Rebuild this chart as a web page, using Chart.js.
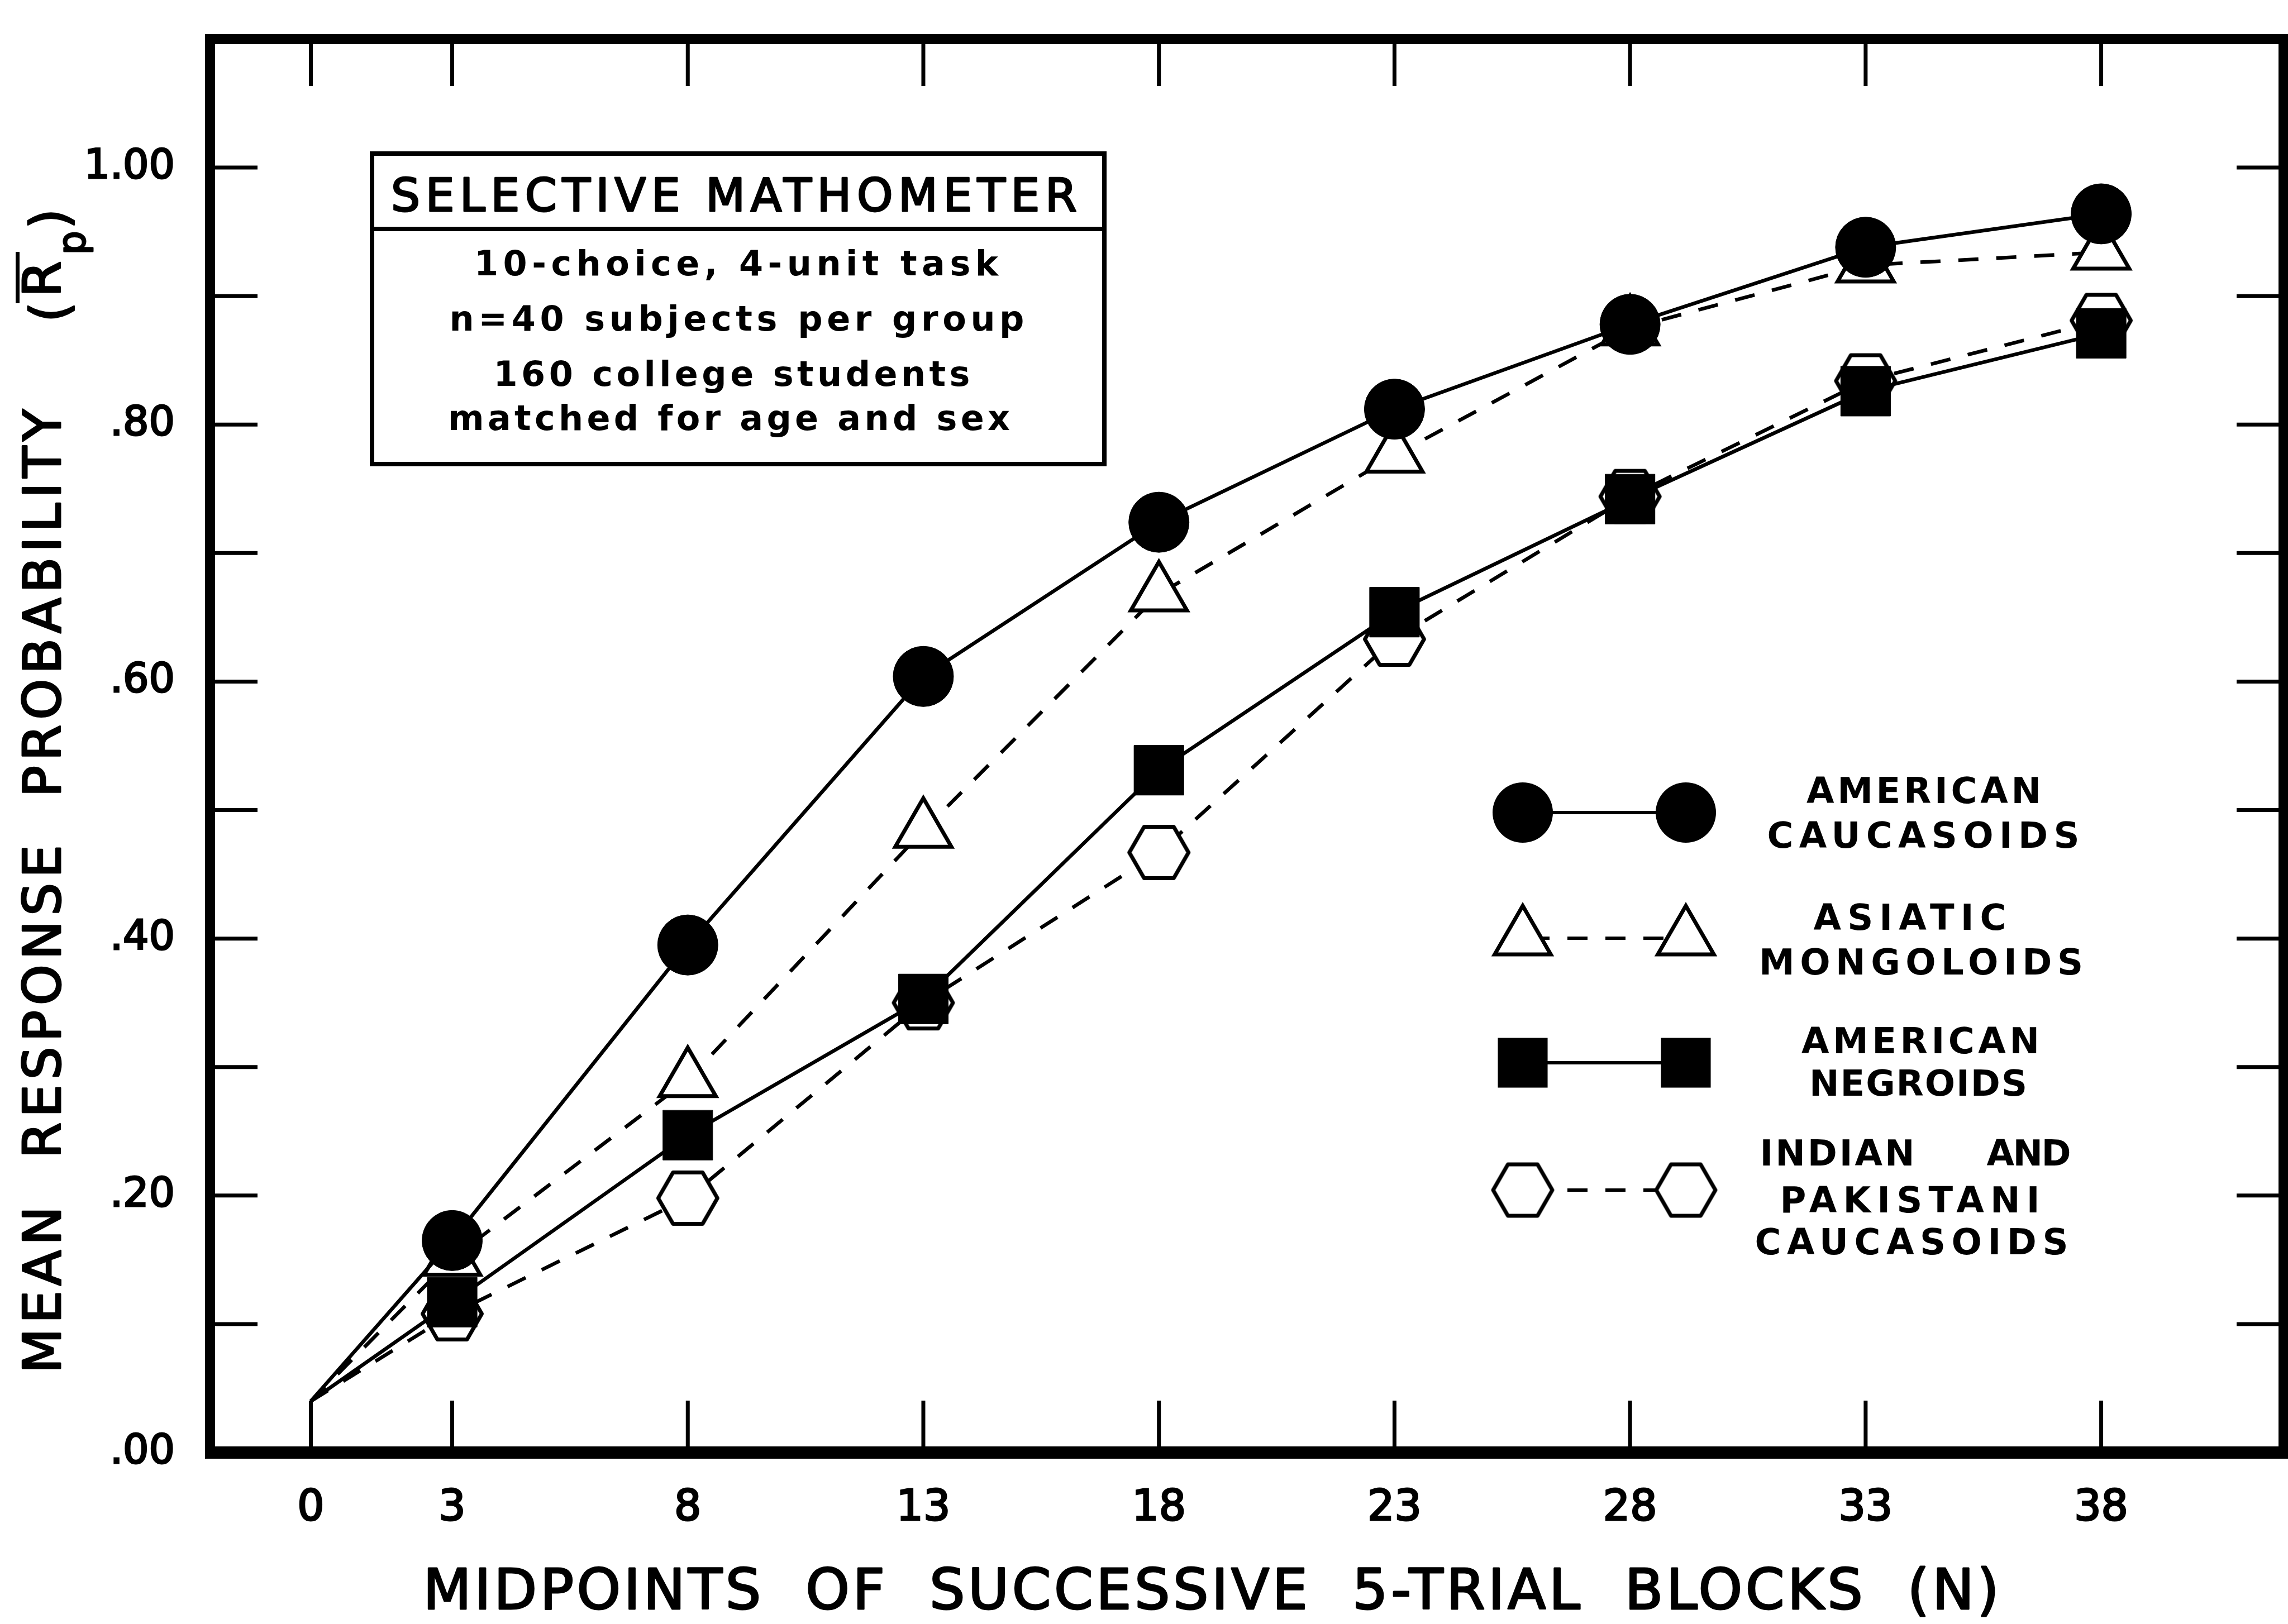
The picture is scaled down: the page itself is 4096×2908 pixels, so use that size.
<!DOCTYPE html>
<html>
<head>
<meta charset="utf-8">
<script src="https://cdn.jsdelivr.net/npm/chart.js@4/dist/chart.umd.min.js"></script>
<style>
html,body{margin:0;padding:0;background:#fff;}
#wrap{width:4096px;height:2908px;position:relative;}
</style>
</head>
<body>
<div id="wrap"><canvas id="c" width="4096" height="2908"></canvas></div>
<script>
// ---------- data ----------
const xValues = [0, 3, 8, 13, 18, 23, 28, 33, 38];
const xTickLabels = ['0', '3', '8', '13', '18', '23', '28', '33', '38'];
const yTickValues = [0, 0.1, 0.2, 0.3, 0.4, 0.5, 0.6, 0.7, 0.8, 0.9, 1.0];
const yTickLabels = ['.00', '', '.20', '', '.40', '', '.60', '', '.80', '', '1.00'];

const americanCaucasoids        = [0.04, 0.165, 0.395, 0.604, 0.724, 0.812, 0.878, 0.938, 0.964];
const asiaticMongoloids         = [0.04, 0.151, 0.290, 0.484, 0.668, 0.776, 0.875, 0.924, 0.934];
const americanNegroids          = [0.04, 0.117, 0.247, 0.353, 0.531, 0.654, 0.742, 0.826, 0.871];
const indianPakistaniCaucasoids = [0.04, 0.108, 0.198, 0.350, 0.467, 0.633, 0.744, 0.834, 0.881];

const seriesNames = ['AMERICAN CAUCASOIDS', 'ASIATIC MONGOLOIDS', 'AMERICAN NEGROIDS', 'INDIAN AND PAKISTANI CAUCASOIDS'];
const legendLines = [['AMERICAN', 'CAUCASOIDS'], ['ASIATIC', 'MONGOLOIDS'], ['AMERICAN', 'NEGROIDS'], ['INDIAN', 'AND', 'PAKISTANI', 'CAUCASOIDS']];
const boxTitle = 'SELECTIVE MATHOMETER';
const boxLines = ['10-choice, 4-unit task', 'n=40 subjects per group', '160 college students', 'matched for age and sex'];
const xTitle = 'MIDPOINTS  OF  SUCCESSIVE  5-TRIAL  BLOCKS  (N)';
const yTitle = 'MEAN  RESPONSE  PROBABILITY';

// ---------- styling helpers ----------
const FONT = '"DejaVu Sans", "Liberation Sans", sans-serif';
const R_CIRCLE = 54, R_TRI = 58, R_RECT = 63, R_HEX = 53;
const TARGET = { left: 376, top: 70, right: 4088, bottom: 2601 };

const hexImg = (() => {
  const R = 53, lw = 7;
  const w = Math.ceil(2 * R + lw + 2), h = Math.ceil(Math.sqrt(3) * R + lw + 2);
  const cv = document.createElement('canvas');
  cv.width = w; cv.height = h;
  const g = cv.getContext('2d');
  g.translate(w / 2, h / 2);
  g.beginPath();
  for (let k = 0; k < 6; k++) {
    const a = k * Math.PI / 3;
    const px = R * Math.cos(a), py = R * Math.sin(a);
    if (k === 0) g.moveTo(px, py); else g.lineTo(px, py);
  }
  g.closePath();
  g.fillStyle = '#fff'; g.fill();
  g.lineWidth = lw; g.strokeStyle = '#000'; g.lineJoin = 'round'; g.stroke();
  return cv;
})();

const pts = arr => xValues.map((x, i) => ({ x: x, y: arr[i] }));
const rads = r => xValues.map((x, i) => (i === 0 ? 0 : r));

function fitText(ctx, text, x0, y, width, strokeW) {
  const n = [...text].length;
  const hasLS = 'letterSpacing' in ctx;
  if (hasLS) ctx.letterSpacing = '0px';
  const nat = ctx.measureText(text).width;
  const ls = n > 1 ? (width - nat) / (n - 1) : 0;
  if (strokeW) { ctx.lineWidth = strokeW; ctx.strokeStyle = '#000'; ctx.lineJoin = 'round'; }
  if (hasLS) {
    ctx.letterSpacing = ls + 'px';
    if (strokeW) ctx.strokeText(text, x0, y);
    ctx.fillText(text, x0, y);
    ctx.letterSpacing = '0px';
  } else {
    let x = x0;
    for (const ch of text) {
      if (strokeW) ctx.strokeText(ch, x, y);
      ctx.fillText(ch, x, y);
      x += ctx.measureText(ch).width + ls;
    }
  }
}
function centeredText(ctx, text, cx, cy, width, font, strokeW) {
  ctx.save();
  ctx.font = font;
  ctx.fillStyle = '#000';
  ctx.textAlign = 'left';
  ctx.textBaseline = 'middle';
  fitText(ctx, text, cx - width / 2, cy, width, strokeW);
  ctx.restore();
}

function legendMarker(ctx, kind, x, y) {
  ctx.save();
  ctx.fillStyle = '#000'; ctx.strokeStyle = '#000';
  if (kind === 'circle') {
    ctx.beginPath(); ctx.arc(x, y, R_CIRCLE, 0, Math.PI * 2); ctx.fill();
  } else if (kind === 'triangle') {
    const r = R_TRI;
    ctx.beginPath();
    ctx.moveTo(x, y - r);
    ctx.lineTo(x + 0.866 * r, y + 0.5 * r);
    ctx.lineTo(x - 0.866 * r, y + 0.5 * r);
    ctx.closePath();
    ctx.fillStyle = '#fff'; ctx.fill();
    ctx.lineWidth = 7; ctx.stroke();
  } else if (kind === 'rect') {
    const s = R_RECT * Math.SQRT1_2;
    ctx.fillRect(x - s, y - s, 2 * s, 2 * s);
  } else {
    ctx.drawImage(hexImg, x - hexImg.width / 2, y - hexImg.height / 2);
  }
  ctx.restore();
}

const framePlugin = {
  id: 'frame',
  beforeDatasetsDraw(chart) {
    const { ctx, chartArea: a, scales: { x, y } } = chart;
    ctx.save();
    ctx.strokeStyle = '#000';
    ctx.lineWidth = 7;
    ctx.beginPath();
    for (const v of xValues) {
      const px = x.getPixelForValue(v);
      ctx.moveTo(px, a.bottom); ctx.lineTo(px, a.bottom - 93);
      ctx.moveTo(px, a.top); ctx.lineTo(px, a.top + 84);
    }
    for (const v of yTickValues) {
      if (v === 0) continue;
      const py = y.getPixelForValue(v);
      ctx.moveTo(a.left, py); ctx.lineTo(a.left + 85, py);
      ctx.moveTo(a.right, py); ctx.lineTo(a.right - 84, py);
    }
    ctx.stroke();
    ctx.restore();
  },
  afterDraw(chart) {
    const { ctx, chartArea: a } = chart;
    ctx.save();
    ctx.strokeStyle = '#000';
    ctx.lineJoin = 'miter';
    ctx.lineWidth = 18;
    ctx.strokeRect(a.left, a.top, a.right - a.left, a.bottom - a.top);
    ctx.lineWidth = 22;
    ctx.beginPath(); ctx.moveTo(a.left - 9, a.bottom); ctx.lineTo(a.right + 9, a.bottom); ctx.stroke();
    ctx.restore();

    // x axis title
    centeredText(ctx, xTitle, 2168, 2855, 2821, '100px ' + FONT, 3);

    // y axis title (rotated)
    ctx.save();
    ctx.fillStyle = '#000';
    ctx.translate(108, 0);
    ctx.rotate(-Math.PI / 2);
    ctx.textAlign = 'left';
    ctx.textBaseline = 'alphabetic';
    ctx.font = '93px ' + FONT;
    fitText(ctx, yTitle, -2459, 0, 1726, 3);
    ctx.lineWidth = 3;
    ctx.strokeText('(', -577, 13); ctx.fillText('(', -577, 13);
    ctx.strokeText('R', -532, 0); ctx.fillText('R', -532, 0);
    ctx.strokeText(')', -410, 13); ctx.fillText(')', -410, 13);
    ctx.font = '67px ' + FONT;
    ctx.strokeText('p', -456, 44); ctx.fillText('p', -456, 44);
    ctx.fillRect(-543, -80, 92, 7);
    ctx.restore();

    // information box
    ctx.save();
    ctx.fillStyle = '#fff';
    ctx.fillRect(666, 275, 1311, 556);
    ctx.strokeStyle = '#000';
    ctx.lineWidth = 8;
    ctx.strokeRect(666, 275, 1311, 556);
    ctx.beginPath(); ctx.moveTo(666, 410); ctx.lineTo(1977, 410); ctx.stroke();
    ctx.restore();
    centeredText(ctx, boxTitle, 1314, 357, 1228, '82px ' + FONT, 3);
    const boxY = [477, 576, 675, 754];
    const boxW = [938, 1029, 853, 1006];
    const boxX = [1318, 1319, 1310, 1305];
    boxLines.forEach((t, i) => centeredText(ctx, t, boxX[i], boxY[i], boxW[i], 'bold 62px ' + FONT));

    // legend
    const xl = 2726, xr = 3018;
    const kinds = ['circle', 'triangle', 'rect', 'hex'];
    const ys = [1455, 1680, 1903, 2131];
    const dashed = [false, true, false, true];
    kinds.forEach((k, i) => {
      ctx.save();
      ctx.strokeStyle = '#000';
      ctx.lineWidth = 6;
      if (dashed[i]) { ctx.setLineDash([36, 32]); ctx.lineDashOffset = -12; }
      ctx.beginPath(); ctx.moveTo(xl, ys[i]); ctx.lineTo(xr, ys[i]); ctx.stroke();
      ctx.restore();
      legendMarker(ctx, k, xl, ys[i]);
      legendMarker(ctx, k, xr, ys[i]);
    });
    const LF = 'bold 64px ' + FONT;
    centeredText(ctx, legendLines[0][0], 3444, 1421, 420, LF);
    centeredText(ctx, legendLines[0][1], 3443, 1501, 559, LF);
    centeredText(ctx, legendLines[1][0], 3419, 1648, 345, LF);
    centeredText(ctx, legendLines[1][1], 3439, 1728, 580, LF);
    centeredText(ctx, legendLines[2][0], 3438, 1869, 426, LF);
    centeredText(ctx, legendLines[2][1], 3434, 1945, 390, LF);
    centeredText(ctx, legendLines[3][0], 3289, 2070, 277, LF);
    centeredText(ctx, legendLines[3][1], 3632, 2070, 151, LF);
    centeredText(ctx, legendLines[3][2], 3419, 2154, 465, LF);
    centeredText(ctx, legendLines[3][3], 3422, 2229, 561, LF);
  }
};

const chart = new Chart(document.getElementById('c'), {
  type: 'line',
  data: {
    datasets: [
      {
        label: seriesNames[0], data: pts(americanCaucasoids),
        borderColor: '#000', backgroundColor: '#000', borderWidth: 6.5,
        pointStyle: 'circle', pointRadius: rads(R_CIRCLE), pointBorderWidth: 1,
        pointBackgroundColor: '#000', pointBorderColor: '#000', order: 0
      },
      {
        label: seriesNames[1], data: pts(asiaticMongoloids),
        borderColor: '#000', backgroundColor: '#fff', borderWidth: 6.5, borderDash: [36, 32],
        pointStyle: 'triangle', pointRadius: rads(R_TRI), pointBorderWidth: 7,
        pointBackgroundColor: '#fff', pointBorderColor: '#000', order: 2
      },
      {
        label: seriesNames[2], data: pts(americanNegroids),
        borderColor: '#000', backgroundColor: '#000', borderWidth: 6.5,
        pointStyle: 'rect', pointRadius: rads(R_RECT), pointBorderWidth: 1,
        pointBackgroundColor: '#000', pointBorderColor: '#000', order: 1
      },
      {
        label: seriesNames[3], data: pts(indianPakistaniCaucasoids),
        borderColor: '#000', backgroundColor: '#fff', borderWidth: 6.5, borderDash: [36, 32],
        pointStyle: hexImg, pointRadius: rads(R_HEX), pointBorderWidth: 7,
        pointBackgroundColor: '#fff', pointBorderColor: '#000', order: 3
      }
    ]
  },
  options: {
    responsive: false,
    animation: false,
    devicePixelRatio: 1,
    layout: { autoPadding: false, padding: { top: 70, right: 8, left: 0, bottom: 0 } },
    plugins: { legend: { display: false }, tooltip: { enabled: false } },
    elements: { line: { tension: 0 } },
    scales: {
      x: {
        type: 'linear', min: -2.14, max: 41.87,
        afterBuildTicks: s => { s.ticks = xValues.map(v => ({ value: v })); },
        afterFit: s => { s.height = 307; s.paddingLeft = 0; s.paddingRight = 0; },
        grid: { display: false, drawTicks: false },
        border: { display: false },
        ticks: {
          autoSkip: false, maxRotation: 0, minRotation: 0, padding: 56, color: '#000',
          textStrokeColor: '#000', textStrokeWidth: 3,
          font: { family: '"DejaVu Sans"', size: 76 },
          callback: (v, i) => xTickLabels[i]
        }
      },
      y: {
        type: 'linear', min: 0, max: 1.10,
        afterBuildTicks: s => { s.ticks = yTickValues.map(v => ({ value: v })); },
        afterFit: s => { s.width = 376; s.paddingTop = 0; s.paddingBottom = 0; },
        grid: { display: false, drawTicks: false },
        border: { display: false },
        ticks: {
          autoSkip: false, padding: 63, color: '#000',
          textStrokeColor: '#000', textStrokeWidth: 3,
          font: { family: '"DejaVu Sans"', size: 73 },
          callback: (v, i) => yTickLabels[i]
        }
      }
    }
  },
  plugins: [framePlugin]
});

// nudge layout padding so the plot area lands exactly where the reference frame is
for (let k = 0; k < 4; k++) {
  const a = chart.chartArea;
  const p = chart.options.layout.padding;
  const dT = TARGET.top - a.top, dL = TARGET.left - a.left, dR = a.right - TARGET.right, dB = a.bottom - TARGET.bottom;
  if (Math.abs(dT) < 0.5 && Math.abs(dL) < 0.5 && Math.abs(dR) < 0.5 && Math.abs(dB) < 0.5) break;
  p.top += dT; p.left += dL; p.right += dR; p.bottom += dB;
  chart.update();
}
</script>
</body>
</html>
